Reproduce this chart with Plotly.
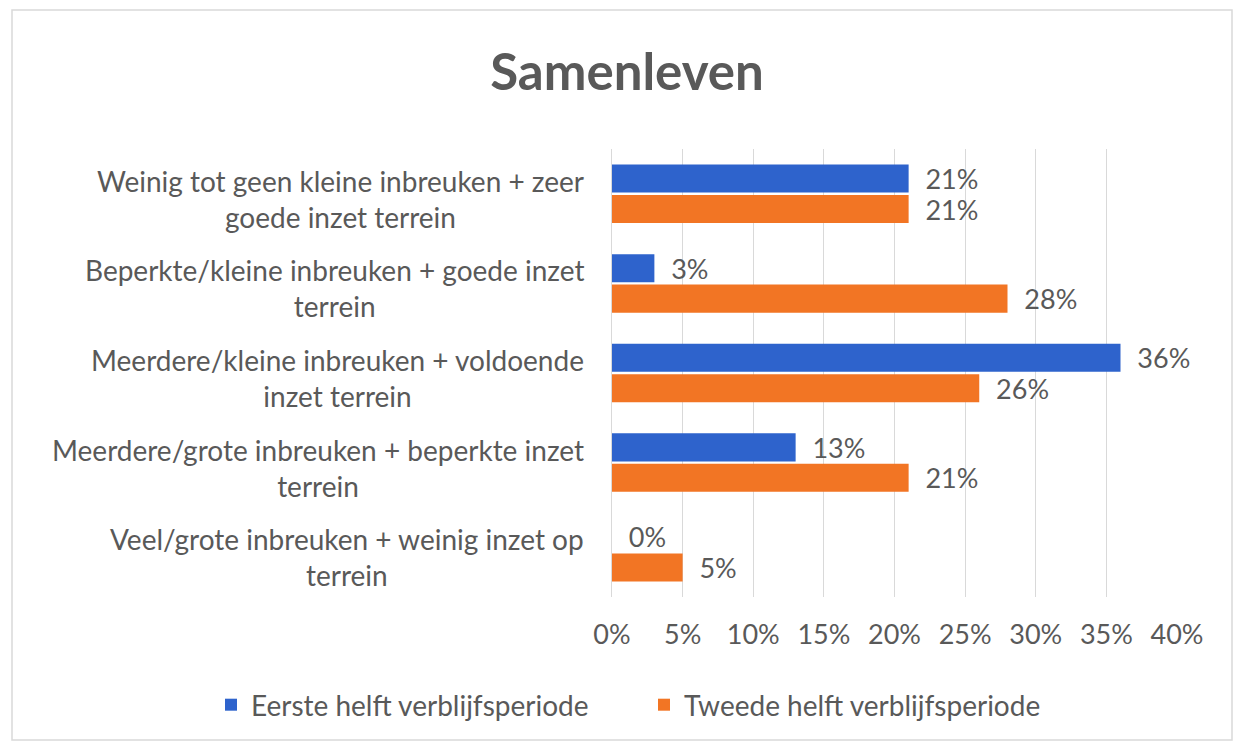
import plotly.graph_objects as go

categories = [
    "Weinig tot geen kleine inbreuken + zeer<br>goede inzet terrein",
    "Beperkte/kleine inbreuken + goede inzet<br>terrein",
    "Meerdere/kleine inbreuken + voldoende<br>inzet terrein",
    "Meerdere/grote inbreuken + beperkte inzet<br>terrein",
    "Veel/grote inbreuken + weinig inzet op<br>terrein",
]
cat_keys = ["c1", "c2", "c3", "c4", "c5"]
eerste = [21, 3, 36, 13, 0]
tweede = [21, 28, 26, 21, 5]
series_names = ["Eerste helft verblijfsperiode", "Tweede helft verblijfsperiode"]
tick_vals = [0, 5, 10, 15, 20, 25, 30, 35, 40]

BLUE = "#2e63cc"
ORANGE = "#f27524"
GREY = "#595959"
FONT = "Lato"

# page body has an 8px margin, so the figure is drawn 8px smaller and shifted
OFF = 8
W, H = 1243 - OFF, 749 - OFF
L, R, T, B = 612 - OFF, 66, 149 - OFF, 152
pw, ph = W - L - R, H - T - B


def px_x(xr):
    return (xr - OFF - L) / pw


def px_y(yr):
    return (H - B - (yr - OFF)) / ph


fig = go.Figure()
for i, (name, vals, col) in enumerate([(series_names[0], eerste, BLUE), (series_names[1], tweede, ORANGE)]):
    fig.add_trace(go.Bar(
        y=cat_keys, x=vals, name=name, orientation="h",
        marker=dict(color=col, line=dict(width=0)),
        text=[f"\u00a0\u00a0{v}%" for v in vals],
        textposition="outside", cliponaxis=False, constraintext="none",
        textfont=dict(family=FONT, size=27, color=GREY),
        hoverinfo="skip",
        legend="legend" if i == 0 else "legend2",
    ))

for key, lab in zip(cat_keys, categories):
    fig.add_annotation(
        x=0, xref="paper", y=key, yref="y", text=lab, showarrow=False,
        xanchor="right", yanchor="middle", align="center", xshift=-26, yshift=-5,
        font=dict(family=FONT, size=28, color=GREY),
    )

fig.add_shape(type="rect", xref="paper", yref="paper",
              x0=px_x(12), x1=px_x(1232), y0=px_y(740), y1=px_y(10),
              line=dict(color="#d9d9d9", width=1.5), layer="below")

leg_common = dict(orientation="h", xanchor="left", yanchor="middle",
                  y=px_y(705), font=dict(family=FONT, size=28, color=GREY),
                  itemwidth=30, bgcolor="rgba(0,0,0,0)")

fig.update_layout(
    width=W, height=H,
    margin=dict(l=L, r=R, t=T, b=B),
    paper_bgcolor="white", plot_bgcolor="white",
    barmode="group", bargap=0.32, bargroupgap=0.08,
    title=dict(text="<b>Samenleven</b>", x=(627 - OFF) / W, xref="container", xanchor="center",
               y=1 - (72 - OFF) / H, yref="container", yanchor="middle",
               font=dict(family=FONT, size=51, color=GREY)),
    xaxis=dict(range=[0, 40], tickvals=tick_vals, ticktext=[f"{v}%" for v in tick_vals],
               showgrid=True, gridcolor="#d9d9d9", gridwidth=1, zeroline=False,
               showline=False, ticks="", ticklabelstandoff=19,
               tickfont=dict(family=FONT, size=27, color=GREY)),
    yaxis=dict(autorange="reversed", showticklabels=False, showgrid=False,
               zeroline=False, showline=True, linecolor="#d9d9d9", linewidth=1, ticks=""),
    legend=dict(x=px_x(229 - 18), **leg_common),
    legend2=dict(x=px_x(662 - 18), **leg_common),
    showlegend=True,
)

fig.write_html("out.html")
